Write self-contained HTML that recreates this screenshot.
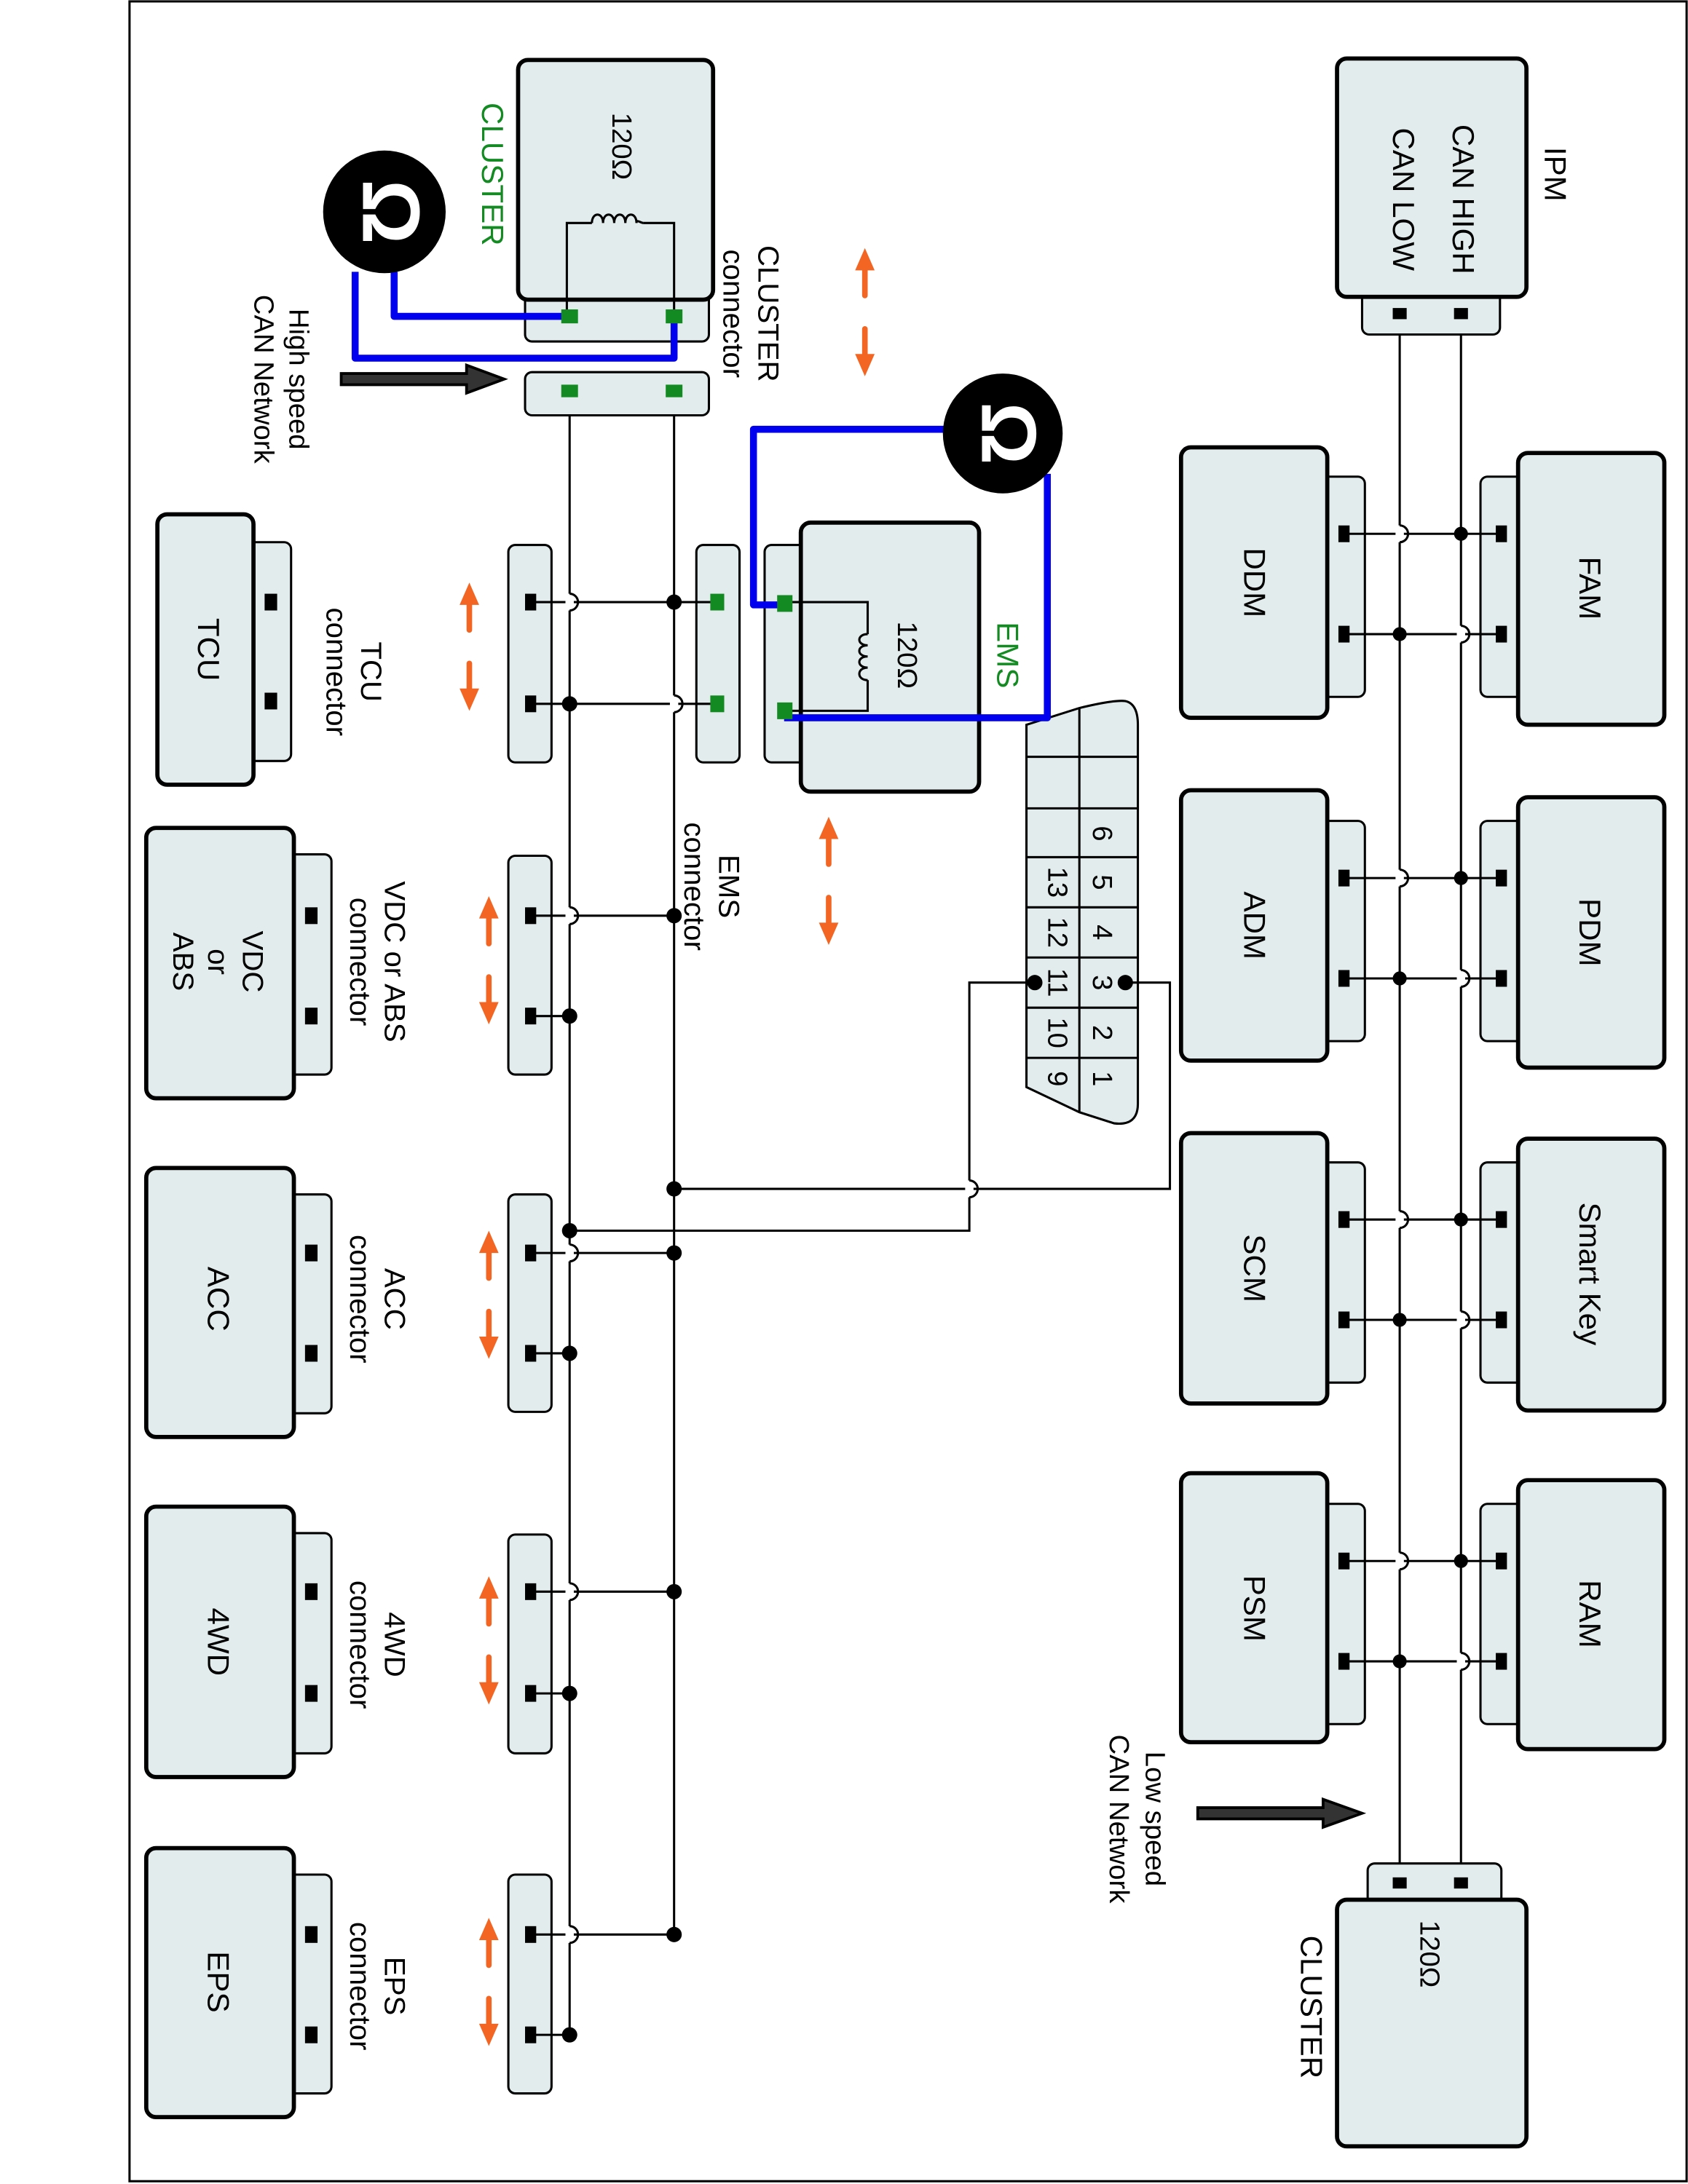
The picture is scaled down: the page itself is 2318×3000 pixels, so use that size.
<!DOCTYPE html>
<html><head><meta charset="utf-8"><style>
html,body{margin:0;padding:0;background:#fff;}
svg{display:block;}
text{font-family:"Liberation Sans",Arial,sans-serif;}
.m{fill:#e3ecec;stroke:#000;stroke-width:3;}
.t{fill:#e3ecec;stroke:#000;stroke-width:1.6;}
.w{stroke:#000;stroke-width:1.6;fill:none;}
.b{stroke:#0000ee;stroke-width:5;fill:none;stroke-linejoin:round;}
.o{stroke:#f26522;stroke-width:4;stroke-linecap:round;}
.of{fill:#f26522;}
.hop{fill:none;stroke:#000;stroke-width:1.6;}
</style></head><body>
<svg width="2318" height="3000" viewBox="0 0 1212 1567" preserveAspectRatio="none" xmlns="http://www.w3.org/2000/svg">
<defs>
<g id="hopv"><rect x="-3" y="-6" width="6" height="12" fill="#fff"/><path d="M0 -6 a6 6 0 0 1 0 12" class="hop"/></g>
<g id="oarr">
<line x1="0" y1="14" x2="0" y2="34" class="o"/><polygon points="0,0 -7,16 7,16" class="of"/>
<line x1="0" y1="58" x2="0" y2="78" class="o"/><polygon points="0,92 -7,76 7,76" class="of"/>
</g>
</defs>
<rect x="93" y="1" width="1118" height="1564" fill="none" stroke="#000" stroke-width="1.6"/>

<!-- ===== LOW SPEED ===== -->
<line x1="1005" y1="225" x2="1005" y2="1351" class="w"/>
<line x1="1049" y1="225" x2="1049" y2="1351" class="w"/>
<!-- IPM -->
<rect x="978" y="205" width="99" height="35" rx="5" class="t"/>
<rect x="960" y="42" width="136" height="171" rx="7" class="m"/>
<rect x="1000" y="221" width="10" height="8"/><rect x="1044" y="221" width="10" height="8"/>
<text transform="translate(1115,125) rotate(90)" font-size="22" text-anchor="middle" dominant-baseline="middle">IPM</text>
<text transform="translate(1049,143) rotate(90)" font-size="22" text-anchor="middle" dominant-baseline="middle">CAN HIGH</text>
<text transform="translate(1006,143) rotate(90)" font-size="22" text-anchor="middle" dominant-baseline="middle">CAN LOW</text>
<!-- bottom cluster -->
<rect x="982" y="1337" width="96" height="34" rx="5" class="t"/>
<rect x="960" y="1363" width="136" height="177" rx="7" class="m"/>
<rect x="1000" y="1347" width="10" height="8"/><rect x="1044" y="1347" width="10" height="8"/>
<text transform="translate(1025,1402) rotate(90)" font-size="20" text-anchor="middle" dominant-baseline="middle">120Ω</text>
<text transform="translate(940,1440) rotate(90)" font-size="22" text-anchor="middle" dominant-baseline="middle">CLUSTER</text>
<!-- low arrow -->
<polygon points="860,1297 950,1297 950,1291 978,1301 950,1311 950,1305 860,1305" fill="#333" stroke="#000" stroke-width="2"/>
<text transform="translate(828,1305) rotate(90)" font-size="20" text-anchor="middle" dominant-baseline="middle">Low speed</text>
<text transform="translate(802,1305) rotate(90)" font-size="20" text-anchor="middle" dominant-baseline="middle">CAN Network</text>

<!-- right modules -->
<g>
<rect x="1063" y="342" width="40" height="158" rx="5" class="t"/><rect x="1090" y="325" width="105" height="195" rx="7" class="m"/>
<text transform="translate(1140,422) rotate(90)" font-size="22" text-anchor="middle" dominant-baseline="middle">FAM</text>
<rect x="1063" y="589" width="40" height="158" rx="5" class="t"/><rect x="1090" y="572" width="105" height="194" rx="7" class="m"/>
<text transform="translate(1140,669) rotate(90)" font-size="22" text-anchor="middle" dominant-baseline="middle">PDM</text>
<rect x="1063" y="834" width="40" height="158" rx="5" class="t"/><rect x="1090" y="817" width="105" height="195" rx="7" class="m"/>
<text transform="translate(1140,914) rotate(90)" font-size="22" text-anchor="middle" dominant-baseline="middle">Smart Key</text>
<rect x="1063" y="1079" width="40" height="158" rx="5" class="t"/><rect x="1090" y="1062" width="105" height="193" rx="7" class="m"/>
<text transform="translate(1140,1158) rotate(90)" font-size="22" text-anchor="middle" dominant-baseline="middle">RAM</text>
</g>
<!-- left modules -->
<g>
<rect x="940" y="342" width="40" height="158" rx="5" class="t"/><rect x="848" y="321" width="105" height="194" rx="7" class="m"/>
<text transform="translate(899,418) rotate(90)" font-size="22" text-anchor="middle" dominant-baseline="middle">DDM</text>
<rect x="940" y="589" width="40" height="158" rx="5" class="t"/><rect x="848" y="567" width="105" height="194" rx="7" class="m"/>
<text transform="translate(899,664) rotate(90)" font-size="22" text-anchor="middle" dominant-baseline="middle">ADM</text>
<rect x="940" y="834" width="40" height="158" rx="5" class="t"/><rect x="848" y="813" width="105" height="194" rx="7" class="m"/>
<text transform="translate(899,910) rotate(90)" font-size="22" text-anchor="middle" dominant-baseline="middle">SCM</text>
<rect x="940" y="1079" width="40" height="158" rx="5" class="t"/><rect x="848" y="1057" width="105" height="193" rx="7" class="m"/>
<text transform="translate(899,1154) rotate(90)" font-size="22" text-anchor="middle" dominant-baseline="middle">PSM</text>
</g>
<!-- low-speed stubs -->
<g>
<line x1="966" y1="383" x2="1078" y2="383" class="w"/><line x1="966" y1="455" x2="1078" y2="455" class="w"/>
<line x1="966" y1="630" x2="1078" y2="630" class="w"/><line x1="966" y1="702" x2="1078" y2="702" class="w"/>
<line x1="966" y1="875" x2="1078" y2="875" class="w"/><line x1="966" y1="947" x2="1078" y2="947" class="w"/>
<line x1="966" y1="1120" x2="1078" y2="1120" class="w"/><line x1="966" y1="1192" x2="1078" y2="1192" class="w"/>
<use href="#hopv" x="1005" y="383"/><use href="#hopv" x="1049" y="455"/>
<use href="#hopv" x="1005" y="630"/><use href="#hopv" x="1049" y="702"/>
<use href="#hopv" x="1005" y="875"/><use href="#hopv" x="1049" y="947"/>
<use href="#hopv" x="1005" y="1120"/><use href="#hopv" x="1049" y="1192"/>
<circle cx="1049" cy="383" r="5"/><circle cx="1005" cy="455" r="5"/>
<circle cx="1049" cy="630" r="5"/><circle cx="1005" cy="702" r="5"/>
<circle cx="1049" cy="875" r="5"/><circle cx="1005" cy="947" r="5"/>
<circle cx="1049" cy="1120" r="5"/><circle cx="1005" cy="1192" r="5"/>
<g>
<rect x="961" y="377" width="8" height="12"/><rect x="961" y="449" width="8" height="12"/>
<rect x="961" y="624" width="8" height="12"/><rect x="961" y="696" width="8" height="12"/>
<rect x="961" y="869" width="8" height="12"/><rect x="961" y="941" width="8" height="12"/>
<rect x="961" y="1114" width="8" height="12"/><rect x="961" y="1186" width="8" height="12"/>
<rect x="1074" y="377" width="8" height="12"/><rect x="1074" y="449" width="8" height="12"/>
<rect x="1074" y="624" width="8" height="12"/><rect x="1074" y="696" width="8" height="12"/>
<rect x="1074" y="869" width="8" height="12"/><rect x="1074" y="941" width="8" height="12"/>
<rect x="1074" y="1114" width="8" height="12"/><rect x="1074" y="1186" width="8" height="12"/>
</g>
</g>

<!-- ===== OBD ===== -->
<path d="M737 520 L775 508 Q800 502 808 503 Q817 505 817 520 L817 792 Q817 808 800 806 L775 798 L737 780 Z" class="t"/>
<line x1="775" y1="508" x2="775" y2="798" class="w"/>
<g class="w">
<line x1="737" y1="543" x2="817" y2="543"/><line x1="737" y1="580" x2="817" y2="580"/>
<line x1="737" y1="615" x2="817" y2="615"/><line x1="737" y1="651" x2="817" y2="651"/>
<line x1="737" y1="687" x2="817" y2="687"/><line x1="737" y1="723" x2="817" y2="723"/>
<line x1="737" y1="759" x2="817" y2="759"/>
</g>
<g font-size="20">
<text transform="translate(790,598) rotate(90)" text-anchor="middle" dominant-baseline="middle">6</text>
<text transform="translate(790,633) rotate(90)" text-anchor="middle" dominant-baseline="middle">5</text>
<text transform="translate(790,669) rotate(90)" text-anchor="middle" dominant-baseline="middle">4</text>
<text transform="translate(790,705) rotate(90)" text-anchor="middle" dominant-baseline="middle">3</text>
<text transform="translate(790,741) rotate(90)" text-anchor="middle" dominant-baseline="middle">2</text>
<text transform="translate(790,774) rotate(90)" text-anchor="middle" dominant-baseline="middle">1</text>
<text transform="translate(758,633) rotate(90)" text-anchor="middle" dominant-baseline="middle">13</text>
<text transform="translate(758,669) rotate(90)" text-anchor="middle" dominant-baseline="middle">12</text>
<text transform="translate(758,705) rotate(90)" text-anchor="middle" dominant-baseline="middle">11</text>
<text transform="translate(758,741) rotate(90)" text-anchor="middle" dominant-baseline="middle">10</text>
<text transform="translate(758,774) rotate(90)" text-anchor="middle" dominant-baseline="middle">9</text>
</g>
<polyline points="808,705 840,705 840,853 484,853" class="w"/>
<polyline points="743,705 696,705 696,883 409,883" class="w"/>
<use href="#hopv" x="696" y="853"/>
<circle cx="808" cy="705" r="5.5"/><circle cx="743" cy="705" r="5.5"/>

<!-- ===== HIGH SPEED ===== -->
<line x1="409" y1="281" x2="409" y2="1460" class="w"/>
<line x1="484" y1="281" x2="484" y2="1388" class="w"/>
<!-- top cluster -->
<rect x="377" y="205" width="132" height="40" rx="5" class="t"/>
<rect x="372" y="43" width="140" height="172" rx="7" class="m"/>
<polyline points="407,227 407,160 425,160" class="w"/><polyline points="484,227 484,160 462,160" class="w"/>
<path d="M425 160 c0 -8 8 -8 8 0 c0 -8 8 -8 8 0 c0 -8 8 -8 8 0 c0 -8 8 -8 8 0 c0 -3 3 0 5 0" class="w"/>
<text transform="translate(445,105) rotate(90)" font-size="20" text-anchor="middle" dominant-baseline="middle">120Ω</text>
<text transform="translate(352,125) rotate(90)" font-size="22" fill="#138a22" text-anchor="middle" dominant-baseline="middle">CLUSTER</text>
<text transform="translate(550,225) rotate(90)" font-size="21" text-anchor="middle" dominant-baseline="middle">CLUSTER</text>
<text transform="translate(525,225) rotate(90)" font-size="21" text-anchor="middle" dominant-baseline="middle">connector</text>
<rect x="377" y="267" width="132" height="31" rx="5" class="t"/>
<rect x="403" y="276" width="12" height="9" fill="#138a22"/><rect x="478" y="276" width="12" height="9" fill="#138a22"/>
<!-- omega 1 -->
<path d="M283 195 V227 H409" class="b"/><path d="M255 195 V257 H484 V227" class="b"/>
<rect x="403" y="222" width="12" height="10" fill="#138a22"/><rect x="478" y="222" width="12" height="10" fill="#138a22"/>
<ellipse cx="276" cy="152" rx="44" ry="44"/>
<text transform="translate(276,152) rotate(90)" font-size="58" font-weight="bold" fill="#fff" text-anchor="middle" dominant-baseline="middle">Ω</text>
<!-- high arrow -->
<polygon points="245,268 335,268 335,262 362,272 335,282 335,276 245,276" fill="#333" stroke="#000" stroke-width="2"/>
<text transform="translate(213,272) rotate(90)" font-size="20" text-anchor="middle" dominant-baseline="middle">High speed</text>
<text transform="translate(188,272) rotate(90)" font-size="20" text-anchor="middle" dominant-baseline="middle">CAN Network</text>

<!-- EMS -->
<rect x="549" y="391" width="40" height="156" rx="5" class="t"/>
<rect x="575" y="375" width="128" height="193" rx="7" class="m"/>
<polyline points="563,432 623,432 623,455" class="w"/><polyline points="563,510 623,510 623,488" class="w"/>
<path d="M623 455 c-8 0 -8 8 0 8 c-8 0 -8 8 0 8 c-8 0 -8 8 0 8 c-8 0 -8 9 0 9" class="w"/>
<text transform="translate(650,470) rotate(90)" font-size="20" text-anchor="middle" dominant-baseline="middle">120Ω</text>
<text transform="translate(722,470) rotate(90)" font-size="22" fill="#138a22" text-anchor="middle" dominant-baseline="middle">EMS</text>
<path d="M680 308 H541 V434 H563" class="b"/><path d="M752 340 V515 H563" class="b"/>
<rect x="558" y="427" width="11" height="12" fill="#138a22"/><rect x="558" y="504" width="11" height="12" fill="#138a22"/>
<ellipse cx="720" cy="311" rx="43" ry="43"/>
<text transform="translate(720,311) rotate(90)" font-size="56" font-weight="bold" fill="#fff" text-anchor="middle" dominant-baseline="middle">Ω</text>
<!-- EMS connector -->
<rect x="500" y="391" width="31" height="156" rx="5" class="t"/>
<text transform="translate(522,636) rotate(90)" font-size="21" text-anchor="middle" dominant-baseline="middle">EMS</text>
<text transform="translate(497,636) rotate(90)" font-size="21" text-anchor="middle" dominant-baseline="middle">connector</text>

<!-- TCU -->
<rect x="170" y="389" width="39" height="157" rx="5" class="t"/>
<rect x="113" y="369" width="69" height="194" rx="7" class="m"/>
<rect x="190" y="426" width="9" height="12"/><rect x="190" y="497" width="9" height="12"/>
<text transform="translate(148,466) rotate(90)" font-size="22" text-anchor="middle" dominant-baseline="middle">TCU</text>
<text transform="translate(265,482) rotate(90)" font-size="21" text-anchor="middle" dominant-baseline="middle">TCU</text>
<text transform="translate(240,482) rotate(90)" font-size="21" text-anchor="middle" dominant-baseline="middle">connector</text>
<rect x="365" y="391" width="31" height="156" rx="5" class="t"/>
<line x1="380" y1="432" x2="515" y2="432" class="w"/><line x1="380" y1="505" x2="515" y2="505" class="w"/>
<use href="#hopv" x="409" y="432"/><use href="#hopv" x="484" y="505"/>
<circle cx="484" cy="432" r="5.5"/><circle cx="409" cy="505" r="5.5"/>
<rect x="377" y="426" width="8" height="12"/><rect x="377" y="499" width="8" height="12"/>
<rect x="510" y="426" width="10" height="12" fill="#138a22"/><rect x="510" y="499" width="10" height="12" fill="#138a22"/>
<use href="#oarr" x="337" y="418"/>
<use href="#oarr" x="621" y="178"/>
<use href="#oarr" x="595" y="586"/>

<!-- VDC -->
<rect x="200" y="613" width="38" height="158" rx="5" class="t"/>
<rect x="105" y="594" width="106" height="194" rx="7" class="m"/>
<rect x="219" y="651" width="9" height="12"/><rect x="219" y="723" width="9" height="12"/>
<text transform="translate(180,690) rotate(90)" font-size="21" text-anchor="middle" dominant-baseline="middle">VDC</text>
<text transform="translate(155,690) rotate(90)" font-size="21" text-anchor="middle" dominant-baseline="middle">or</text>
<text transform="translate(130,690) rotate(90)" font-size="21" text-anchor="middle" dominant-baseline="middle">ABS</text>
<text transform="translate(282,690) rotate(90)" font-size="21" text-anchor="middle" dominant-baseline="middle">VDC or ABS</text>
<text transform="translate(257,690) rotate(90)" font-size="21" text-anchor="middle" dominant-baseline="middle">connector</text>
<rect x="365" y="614" width="31" height="157" rx="5" class="t"/>
<line x1="380" y1="657" x2="484" y2="657" class="w"/><line x1="380" y1="729" x2="409" y2="729" class="w"/>
<use href="#hopv" x="409" y="657"/>
<circle cx="484" cy="657" r="5.5"/><circle cx="409" cy="729" r="5.5"/>
<rect x="377" y="651" width="8" height="12"/><rect x="377" y="723" width="8" height="12"/>
<use href="#oarr" x="351" y="643"/>

<!-- ACC -->
<rect x="200" y="857" width="38" height="157" rx="5" class="t"/>
<rect x="105" y="838" width="106" height="193" rx="7" class="m"/>
<rect x="219" y="893" width="9" height="12"/><rect x="219" y="965" width="9" height="12"/>
<text transform="translate(155,932) rotate(90)" font-size="22" text-anchor="middle" dominant-baseline="middle">ACC</text>
<text transform="translate(282,932) rotate(90)" font-size="21" text-anchor="middle" dominant-baseline="middle">ACC</text>
<text transform="translate(257,932) rotate(90)" font-size="21" text-anchor="middle" dominant-baseline="middle">connector</text>
<rect x="365" y="857" width="31" height="156" rx="5" class="t"/>
<line x1="380" y1="899" x2="484" y2="899" class="w"/><line x1="380" y1="971" x2="409" y2="971" class="w"/>
<use href="#hopv" x="409" y="899"/>
<circle cx="484" cy="899" r="5.5"/><circle cx="409" cy="971" r="5.5"/>
<circle cx="409" cy="883" r="5.5"/><circle cx="484" cy="853" r="5.5"/>
<rect x="377" y="893" width="8" height="12"/><rect x="377" y="965" width="8" height="12"/>
<use href="#oarr" x="351" y="883"/>

<!-- 4WD -->
<rect x="200" y="1100" width="38" height="158" rx="5" class="t"/>
<rect x="105" y="1081" width="106" height="194" rx="7" class="m"/>
<rect x="219" y="1136" width="9" height="12"/><rect x="219" y="1209" width="9" height="12"/>
<text transform="translate(155,1178) rotate(90)" font-size="22" text-anchor="middle" dominant-baseline="middle">4WD</text>
<text transform="translate(282,1180) rotate(90)" font-size="21" text-anchor="middle" dominant-baseline="middle">4WD</text>
<text transform="translate(257,1180) rotate(90)" font-size="21" text-anchor="middle" dominant-baseline="middle">connector</text>
<rect x="365" y="1101" width="31" height="157" rx="5" class="t"/>
<line x1="380" y1="1142" x2="484" y2="1142" class="w"/><line x1="380" y1="1215" x2="409" y2="1215" class="w"/>
<use href="#hopv" x="409" y="1142"/>
<circle cx="484" cy="1142" r="5.5"/><circle cx="409" cy="1215" r="5.5"/>
<rect x="377" y="1136" width="8" height="12"/><rect x="377" y="1209" width="8" height="12"/>
<use href="#oarr" x="351" y="1131"/>

<!-- EPS -->
<rect x="200" y="1345" width="38" height="157" rx="5" class="t"/>
<rect x="105" y="1326" width="106" height="193" rx="7" class="m"/>
<rect x="219" y="1382" width="9" height="12"/><rect x="219" y="1454" width="9" height="12"/>
<text transform="translate(155,1422) rotate(90)" font-size="22" text-anchor="middle" dominant-baseline="middle">EPS</text>
<text transform="translate(282,1425) rotate(90)" font-size="21" text-anchor="middle" dominant-baseline="middle">EPS</text>
<text transform="translate(257,1425) rotate(90)" font-size="21" text-anchor="middle" dominant-baseline="middle">connector</text>
<rect x="365" y="1345" width="31" height="157" rx="5" class="t"/>
<line x1="380" y1="1388" x2="484" y2="1388" class="w"/><line x1="380" y1="1460" x2="409" y2="1460" class="w"/>
<use href="#hopv" x="409" y="1388"/>
<circle cx="484" cy="1388" r="5.5"/><circle cx="409" cy="1460" r="5.5"/>
<rect x="377" y="1382" width="8" height="12"/><rect x="377" y="1454" width="8" height="12"/>
<use href="#oarr" x="351" y="1376"/>
</svg>
</body></html>
